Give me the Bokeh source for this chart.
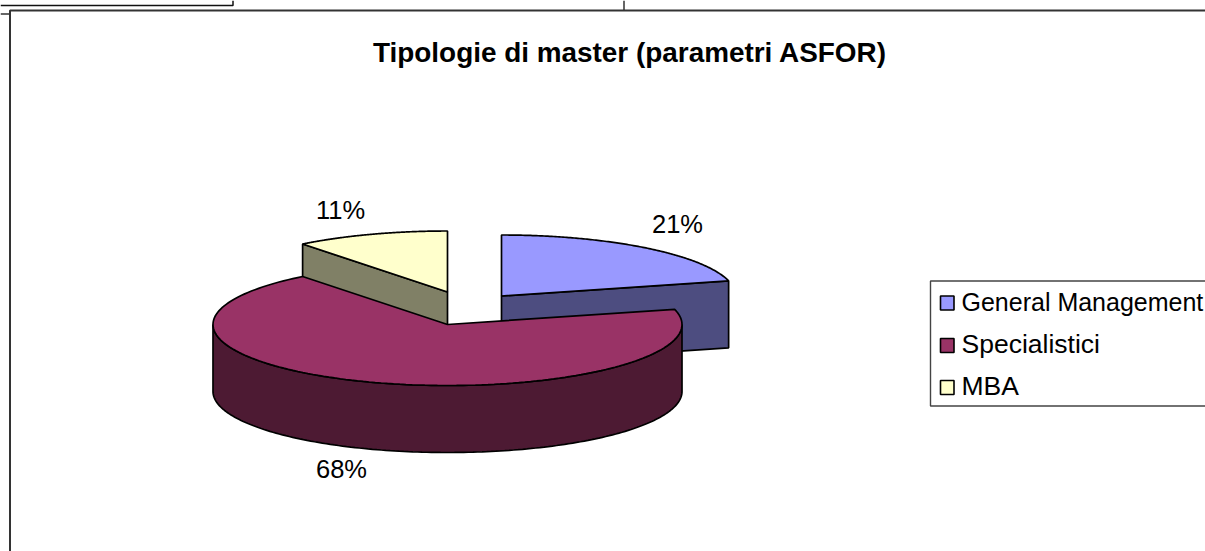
import numpy as np
from bokeh.plotting import figure
from bokeh.models import Range1d
from bokeh.core.properties import value
from bokeh.embed import file_html
from bokeh.resources import INLINE

title = "Tipologie di master (parametri ASFOR)"
categories = ["General Management", "Specialistici", "MBA"]
shares = [21.0, 68.4, 10.6]
top_colors = ["#9999FF", "#993366", "#FFFFCC"]
side_colors = ["#4D4D80", "#4D1A33", "#808066"]

W, H = 1205, 551
RX, RY, DEPTH = 234.5, 61, 67
FONT = value("Liberation Sans")
apexes = [(501, 295.5), (447, 324), (447, 291.5)]

p = figure(width=W, height=H, output_backend="svg", toolbar_location=None,
           x_range=Range1d(0, W), y_range=Range1d(H, 0),
           x_axis_location=None, y_axis_location=None, min_border=0,
           outline_line_color=None, background_fill_color="white",
           styles={"position": "absolute", "left": "0", "top": "0"})
p.grid.visible = False


def arc(apex, a0, a1, n=160):
    t = np.radians(np.linspace(a0, a1, n))
    return apex[0] + RX * np.sin(t), apex[1] - RY * np.cos(t)


LW = 1.7
edges = np.concatenate([[0], np.cumsum(shares)]) * 3.6

# page furniture from the surrounding document
for xs, ys, c, w in [([0, 232.5, 232.5], [5, 5, 0], "#111111", 1.5),
                     ([0, 9.5], [13.5, 13.5], "#333333", 1.5),
                     ([623.5, 623.5], [0, 10], "#333333", 1.5),
                     ([9.5, 9.5, W], [H, 10, 10], "#333333", 2)]:
    p.line(xs, ys, line_color=c, line_width=w)

# General Management: cut face, then top
a = apexes[0]
rx, ry = arc(a, edges[0], edges[1])
p.patch([a[0], rx[-1], rx[-1], a[0]], [a[1], ry[-1], ry[-1] + DEPTH, a[1] + DEPTH],
        fill_color=side_colors[0], line_color="black", line_width=LW)
p.patch([a[0], *rx], [a[1], *ry], fill_color=top_colors[0], line_color="black", line_width=LW)

# MBA: cut face, then top
a = apexes[2]
rx, ry = arc(a, edges[2], edges[3])
p.patch([a[0], rx[0], rx[0], a[0]], [a[1], ry[0], ry[0] + DEPTH, a[1] + DEPTH],
        fill_color=side_colors[2], line_color="black", line_width=LW)
p.patch([a[0], *rx], [a[1], *ry], fill_color=top_colors[2], line_color="black", line_width=LW)

# Specialistici: outer wall, then top
a = apexes[1]
wx, wy = arc(a, 90, 270)
p.patch([*wx, *wx[::-1]], [*wy, *(wy[::-1] + DEPTH)],
        fill_color=side_colors[1], line_color="black", line_width=LW)
rx, ry = arc(a, edges[1], edges[2])
p.patch([a[0], *rx], [a[1], *ry], fill_color=top_colors[1], line_color="black", line_width=LW)

# Percentage labels
label_x = [677, 341, 340]
label_y = [223.5, 468.5, 209.5]
labels = [f"{round(s)}%" for s in shares]
p.text(label_x, label_y, text=labels, text_font=FONT, text_font_size="25.5px",
       text_align="center", text_baseline="alphabetic", text_color="black")

# Title
p.text([629.5], [52], text=[title], text_font=FONT, text_font_size="27.9px",
       text_font_style="bold", text_align="center", text_baseline="alphabetic", text_color="black")

# Legend
p.quad(left=[930], right=[W + 20], top=[280.5], bottom=[405.5], fill_color="white",
       line_color="#444444", line_width=1.4)
sw_y = [302.5, 345, 387]
txt_y = [301.5, 343.5, 385.5]
p.quad(left=[940] * 3, right=[953.5] * 3, top=[y - 7 for y in sw_y], bottom=[y + 7 for y in sw_y],
       fill_color=top_colors, line_color="black", line_width=1.6)
p.text([961], txt_y[:1], text=categories[:1], text_font=FONT, text_font_size="25px",
       text_align="left", text_baseline="alphabetic", text_color="black")
p.text([961] * 2, txt_y[1:], text=categories[1:], text_font=FONT, text_font_size="26.5px",
       text_align="left", text_baseline="alphabetic", text_color="black")

open("out.html", "w").write(file_html(p, INLINE))
